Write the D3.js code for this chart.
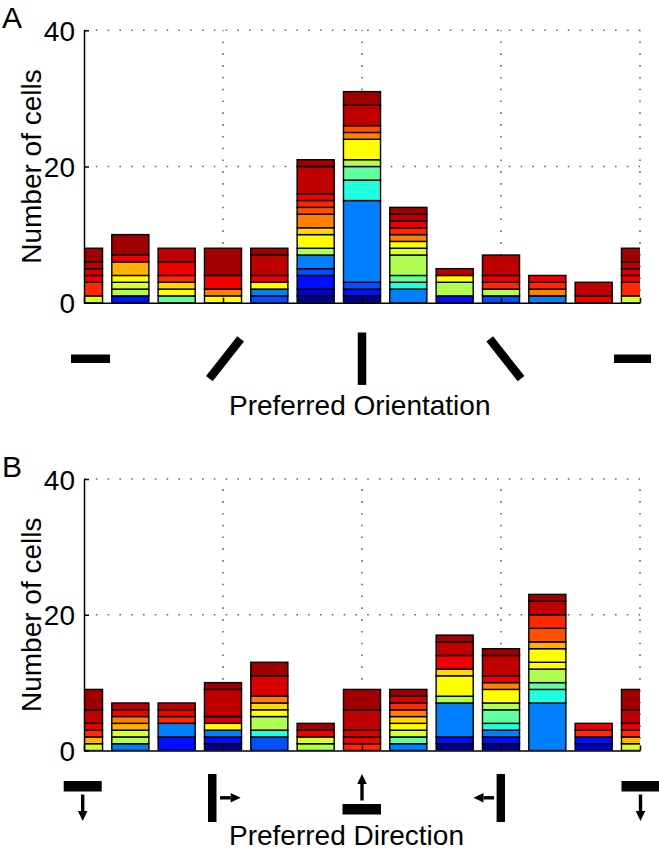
<!DOCTYPE html>
<html><head><meta charset="utf-8">
<script src="https://cdn.jsdelivr.net/npm/d3@7"></script>
<style>
body{margin:0;background:#fff}
svg text{font-family:"Liberation Sans",Arial,sans-serif;fill:#000}
</style>
</head><body><svg id="c" width="659" height="853"></svg>
<script>
// jet-like colour levels (index 0 = dark blue ... 18 = darkest red)
const jetColors = ["#00008F","#0000CF","#0010FF","#0050FF","#0080FF","#20FFE0","#60FFA0","#B0FF50","#D8FF30",
  "#FFFF00","#FFD800","#FFB000","#FF8000","#FF5000","#FF2800","#F00000","#D80000","#C00000","#A00000"];

// Panel A: preferred orientation (15 deg bins)
const orientBins = [0,15,30,45,60,75,90,105,120,135,150,165,180];
const orientLevels = [
  [8,14,15,16,17,18],
  [2,7,8,9,11,15,18],
  [6,9,10,14,15,17],
  [9,12,15,18],
  [3,4,9,15,17,18],
  [0,1,2,3,4,7,9,10,12,13,14,15,17,18],
  [0,2,3,4,5,6,7,9,12,13,17,18],
  [4,5,6,7,8,9,12,14,15,17,18],
  [2,7,9,17],
  [3,7,14,15,17],
  [4,12,14,15],
  [15,17],
  [8,14,15,16,17,18]
];
const orientCounts = [
  [1,2,1,1,1,2],
  [1,1,1,1,2,1,3],
  [1,1,1,1,2,2],
  [1,1,2,4],
  [1,1,1,1,3,1],
  [1,1,2,1,2,1,2,1,2,1,1,1,4,1],
  [1,1,1,12,3,2,1,3,1,1,3,2],
  [2,1,1,3,1,1,1,1,1,1,1],
  [1,2,1,1],
  [1,1,1,1,3],
  [1,1,1,1],
  [1,2],
  [1,2,1,1,1,2]
];
const orientTicks = [0,45,90,135,180];

// Panel B: preferred direction (30 deg bins)
const directionBins = [0,30,60,90,120,150,180,210,240,270,300,330,360];
const directionLevels = [
  [8,11,14,15,17,18],
  [4,7,8,11,12,15,17],
  [2,4,14,15,17],
  [0,2,4,9,16,17,18],
  [3,5,7,9,10,12,16,18],
  [7,8,15,18],
  [14,15,16,17,18],
  [4,6,8,9,10,12,14,16,18],
  [0,2,4,7,9,10,15,17,18],
  [0,2,4,5,6,7,9,12,15,17,18],
  [4,5,6,7,9,9,11,13,14,17,18],
  [1,2,14,15],
  [8,11,14,15,17,18]
];
const directionCounts = [
  [1,1,1,1,2,3],
  [1,1,1,1,1,1,1],
  [2,2,1,1,1],
  [1,1,1,1,1,4,1],
  [2,1,2,1,1,1,3,2],
  [1,1,1,1],
  [1,1,1,3,3],
  [1,1,1,1,1,1,1,1,1],
  [1,1,5,1,3,1,2,2,1],
  [1,1,1,1,2,1,2,1,1,3,1],
  [7,2,1,2,1,2,1,2,2,2,1],
  [1,1,1,1],
  [1,1,1,1,2,3]
];
const directionTicks = [0,90,180,270,360];

const yTicks = [0,20,40];
const yMax = 40;
const panelLabels = ["A","B"];
const xTitles = ["Preferred Orientation","Preferred Direction"];
const yTitle = "Number of cells";

const svg = d3.select("#c");
svg.append("rect").attr("width",659).attr("height",853).attr("fill","#fff");

const L = 84, R = 640, FS = 28;

function panel(idx, top, zero, maxDeg, step, bins, levels, counts, ticks){
  const x = d3.scaleLinear().domain([0,maxDeg]).range([L,R]);
  const y = d3.scaleLinear().domain([0,yMax]).range([zero,top]);
  const g = svg.append("g");
  const clipId = "clip"+idx;
  g.append("clipPath").attr("id",clipId).append("rect")
    .attr("x",L).attr("y",top-5).attr("width",R-L).attr("height",zero-top+5);

  // dotted grid
  const grid = g.append("g").attr("stroke","#666").attr("stroke-width",1.6)
    .attr("stroke-dasharray","1.6,10.2");
  yTicks.filter(t=>t>0).forEach(t=>{
    grid.append("line").attr("x1",L).attr("x2",R).attr("y1",y(t)).attr("y2",y(t));
  });
  ticks.filter(t=>t>0).forEach(t=>{
    grid.append("line").attr("x1",x(t)).attr("x2",x(t)).attr("y1",zero).attr("y2",top);
  });

  // stacked bars
  const segs = [];
  bins.forEach((b,i)=>{
    let cum = 0;
    levels[i].forEach((lv,j)=>{
      const c = counts[i][j];
      segs.push({b, y0:cum, y1:cum+c, color:jetColors[lv]});
      cum += c;
    });
  });
  const bw = x(0.8*step) - x(0);
  g.append("g").attr("clip-path",`url(#${clipId})`)
    .selectAll("rect").data(segs).join("rect")
    .attr("x",d=>x(d.b - 0.4*step)).attr("width",bw)
    .attr("y",d=>y(d.y1)).attr("height",d=>y(d.y0)-y(d.y1))
    .attr("fill",d=>d.color).attr("stroke","#000").attr("stroke-width",1.4);

  // axes
  const ya = d3.axisLeft(y).tickValues(yTicks).tickSizeInner(-5).tickSizeOuter(0).tickPadding(9);
  const yg = g.append("g").attr("transform",`translate(${L},0)`).call(ya);
  yg.attr("font-family",null).attr("font-size",null);
  yg.selectAll("text").attr("font-size",FS).attr("dy","0.36em");
  yg.selectAll("path,line").attr("stroke","#000").attr("stroke-width",1.5);
  const xa = d3.axisBottom(x).tickValues(ticks).tickSizeInner(-5).tickSizeOuter(0).tickFormat("");
  const xg = g.append("g").attr("transform",`translate(0,${zero})`).call(xa);
  xg.selectAll("path,line").attr("stroke","#000").attr("stroke-width",1.5);

  // titles
  g.append("text").attr("x",2).attr("y",top-2).attr("font-size",30).text(panelLabels[idx]);
  g.append("text").attr("transform",`translate(41,${(top+zero)/2}) rotate(-90)`)
    .attr("text-anchor","middle").attr("font-size",FS).text(yTitle);
  return {x, y, g};
}

// Panel A
const pA = panel(0, 30.3, 302.7, 180, 15, orientBins, orientLevels, orientCounts, orientTicks);
{
  const zero = 302.7, cy = zero + 56;
  // icon geometry: [dx from tick, half-length, screen angle deg]
  const iconStyle = {0:[6.5,19.5,0], 45:[2,25.3,-51.8], 90:[0,26.2,90], 135:[4.4,25.3,51.8], 180:[-7.5,18.5,0]};
  orientTicks.forEach(t=>{
    const [dx,h,a] = iconStyle[t];
    const cx = pA.x(t)+dx, r = a*Math.PI/180;
    pA.g.append("line")
      .attr("x1",cx-h*Math.cos(r)).attr("y1",cy-h*Math.sin(r))
      .attr("x2",cx+h*Math.cos(r)).attr("y2",cy+h*Math.sin(r))
      .attr("stroke","#000").attr("stroke-width",8.5);
  });
  pA.g.append("text").attr("x",229).attr("y",415).attr("font-size",FS).text(xTitles[0]);
}

// Panel B
const pB = panel(1, 479, 750.5, 360, 30, directionBins, directionLevels, directionCounts, directionTicks);
{
  const zero = 750.5;
  const g = pB.g;
  function arrow(x1,y1,x2,y2){
    const ang = Math.atan2(y2-y1,x2-x1), hl = 10, hw = 4.8;
    const bx = x2 - hl*Math.cos(ang), by = y2 - hl*Math.sin(ang);
    g.append("line").attr("x1",x1).attr("y1",y1).attr("x2",bx).attr("y2",by)
      .attr("stroke","#000").attr("stroke-width",3.4);
    const px = -Math.sin(ang)*hw, py = Math.cos(ang)*hw;
    g.append("path").attr("d",`M${x2},${y2}L${bx+px},${by+py}L${bx-px},${by-py}Z`).attr("fill","#000");
  }
  function bar(x0,x1,y0,y1){
    g.append("rect").attr("x",x0).attr("y",y0).attr("width",x1-x0).attr("height",y1-y0).attr("fill","#000");
  }
  directionTicks.forEach(t=>{
    const tx = pB.x(t);
    const d = t % 360;
    if(d===0){
      const off = t===0 ? -1.3 : 0.5;
      bar(tx+off-19, tx+off+19, zero+30.5, zero+41);
      arrow(tx+off, zero+44, tx+off, zero+70.5);
    } else if(d===90){
      bar(tx-15, tx-6.5, zero+23.5, zero+71.5);
      arrow(tx-3, zero+47.3, tx+17.7, zero+47.3);
    } else if(d===180){
      bar(tx-19.5, tx+19, zero+53.5, zero+64);
      arrow(tx, zero+50, tx, zero+23.5);
    } else {
      bar(tx-4.4, tx+4, zero+23.5, zero+71.5);
      arrow(tx-7, zero+47.3, tx-27.5, zero+47.3);
    }
  });
  g.append("text").attr("x",229).attr("y",845).attr("font-size",FS).text(xTitles[1]);
}
</script>
</body></html>
